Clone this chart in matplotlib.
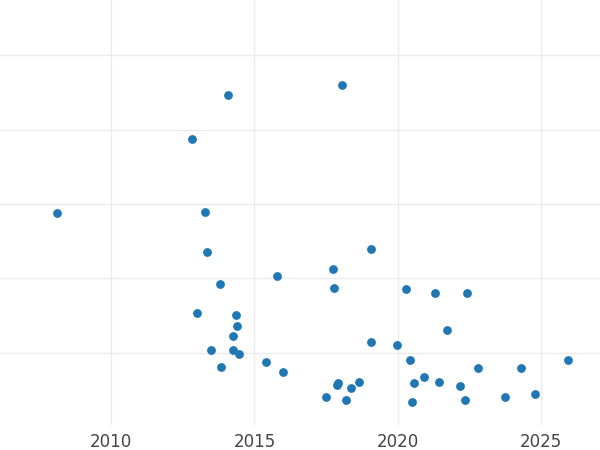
import matplotlib.pyplot as plt

years = [2008.12, 2014.08, 2018.05, 2012.82, 2013.28, 2013.35, 2019.07, 2015.79, 2017.74,
         2013.80, 2017.78, 2020.29, 2021.30, 2022.41, 2013.00, 2014.36, 2014.39, 2014.25,
         2021.72, 2019.07, 2019.97, 2013.49, 2014.25, 2014.46, 2020.43, 2025.93, 2015.40,
         2013.84, 2016.00, 2022.80, 2024.30, 2020.91, 2017.92, 2018.65, 2020.56, 2021.44,
         2017.88, 2018.37, 2022.17, 2017.50, 2018.19, 2020.50, 2022.34, 2023.74, 2024.78]
values = [2.88, 4.46, 4.60, 3.87, 2.89, 2.36, 2.40, 2.03, 2.13,
          1.93, 1.87, 1.86, 1.81, 1.81, 1.54, 1.51, 1.36, 1.23,
          1.30, 1.15, 1.11, 1.04, 1.04, 0.99, 0.91, 0.91, 0.88,
          0.81, 0.74, 0.80, 0.80, 0.68, 0.60, 0.61, 0.60, 0.61,
          0.57, 0.53, 0.56, 0.41, 0.37, 0.34, 0.36, 0.41, 0.44]
x_ticks = [2010, 2015, 2020, 2025]
y_grid = [1, 2, 3, 4, 5]

fig = plt.figure(figsize=(6, 4.5), dpi=100)
ax = fig.add_axes([0, 25 / 450, 1, 425 / 450])
ax.scatter(years, values, s=40, color='#1f77b4', zorder=3, linewidths=0)
ax.set_xlim(2006.13, 2027.05)
ax.set_ylim(0.03, 5.74)
ax.set_xticks(x_ticks)
ax.set_yticks(y_grid)
ax.set_yticklabels([])
ax.grid(True, color='#ebebeb', linewidth=1)
ax.tick_params(length=0, labelsize=12, labelcolor='#444444', pad=6)
for s in ax.spines.values():
    s.set_visible(False)
fig.savefig('out.png')
